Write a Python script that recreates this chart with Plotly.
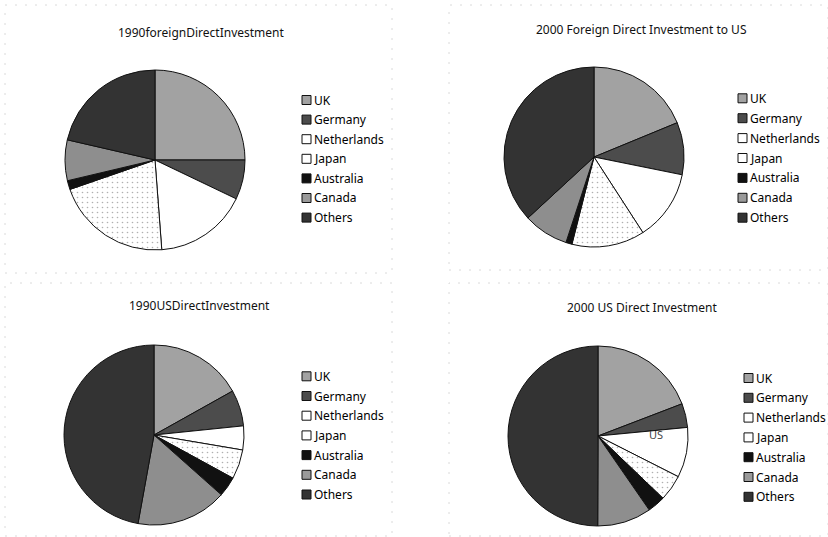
import plotly.graph_objects as go

W, H = 828, 537

# Shares (%) by source / destination country
labels = ["UK", "Germany", "Netherlands", "Japan", "Australia", "Canada", "Others"]
fdi_1990 = [25.0, 7.1, 16.7, 20.9, 1.6, 7.3, 21.4]
fdi_2000 = [18.8, 9.4, 12.7, 13.1, 1.1, 8.1, 36.9]
usdi_1990 = [16.9, 6.5, 4.3, 5.3, 3.6, 16.3, 47.2]
usdi_2000 = [19.2, 4.3, 9.0, 4.7, 3.2, 9.7, 50.0]

titles = [
    "1990foreignDirectInvestment",
    "2000 Foreign Direct Investment to US",
    "1990USDirectInvestment",
    "2000 US Direct Investment",
]

colors = ["#a2a2a2", "#4c4c4c", "#ffffff", "#f8f8f8", "#111111", "#8e8e8e", "#333333"]
legend_colors = ["#a2a2a2", "#4c4c4c", "#ffffff", "#ffffff", "#111111", "#9a9a9a", "#333333"]
pattern_shapes = ["", "", "", ".", "", "", ""]

FONT = "Noto Sans"

# pixel layout: (pie centre x, centre y, radius, title x, title y,
#                legend swatch x, first legend row y, legend row step)
panels = [
    (155, 160, 90, 201, 32, 302, 100, 19.6),
    (594, 157, 90, 641, 29, 738, 98.3, 19.9),
    (154, 435, 90, 199, 305, 302, 376.3, 19.7),
    (598, 436, 90, 642, 307, 744, 378, 19.8),
]
series = [fdi_1990, fdi_2000, usdi_1990, usdi_2000]


def px(x):
    return x / W


def py(y):
    return 1 - y / H


fig = go.Figure()

for i, (vals, (cx, cy, r, tx, ty, lx, ly, step)) in enumerate(zip(series, panels)):
    fig.add_trace(go.Pie(
        labels=labels,
        values=vals,
        sort=False,
        direction="clockwise",
        rotation=0,
        textinfo="none",
        hoverinfo="label+percent",
        automargin=False,
        showlegend=False,
        marker=dict(
            colors=colors,
            line=dict(color="#111111", width=1),
            pattern=dict(shape=pattern_shapes, fgcolor="#b0b0b0",
                         size=5, solidity=0.08),
        ),
        domain=dict(x=[px(cx - r), px(cx + r)], y=[py(cy + r), py(cy - r)]),
    ))
    fig.add_annotation(
        x=px(tx), y=py(ty), xref="paper", yref="paper",
        text=titles[i], showarrow=False,
        font=dict(family=FONT, size=12, color="#111111"),
        xanchor="center", yanchor="middle",
    )
    # legend: swatch + label per category
    for k, (lab, col) in enumerate(zip(labels, legend_colors)):
        yc = ly + k * step
        fig.add_shape(
            type="rect", xref="paper", yref="paper",
            x0=px(lx), x1=px(lx + 9), y0=py(yc + 4.5), y1=py(yc - 4.5),
            fillcolor=col, line=dict(color="#111111", width=1),
        )
        fig.add_annotation(
            x=px(lx + 10), y=py(yc), xref="paper", yref="paper",
            text=lab, showarrow=False,
            font=dict(family=FONT, size=12, color="#000000"),
            xanchor="left", yanchor="middle",
        )

# stray label left inside the last pie
fig.add_annotation(
    x=px(656), y=py(434), xref="paper", yref="paper",
    text="US", showarrow=False,
    font=dict(family=FONT, size=11, color="#444444"),
    xanchor="center", yanchor="middle",
)

# faint dotted chart-area frames
frames = [(5, 5, 392, 273), (449, 5, 828, 270), (5, 283, 392, 536), (449, 283, 828, 536)]
for x0, y0, x1, y1 in frames:
    fig.add_shape(
        type="rect", xref="paper", yref="paper",
        x0=px(x0), x1=px(x1), y0=py(y1), y1=py(y0),
        line=dict(color="#dadada", width=1, dash="2px,8px"),
        fillcolor="rgba(0,0,0,0)", layer="below",
    )

fig.update_layout(
    width=W, height=H,
    margin=dict(l=0, r=0, t=0, b=0),
    paper_bgcolor="white",
    plot_bgcolor="white",
    showlegend=False,
    font=dict(family=FONT, size=12, color="#111111"),
)

fig.write_html("out.html")
